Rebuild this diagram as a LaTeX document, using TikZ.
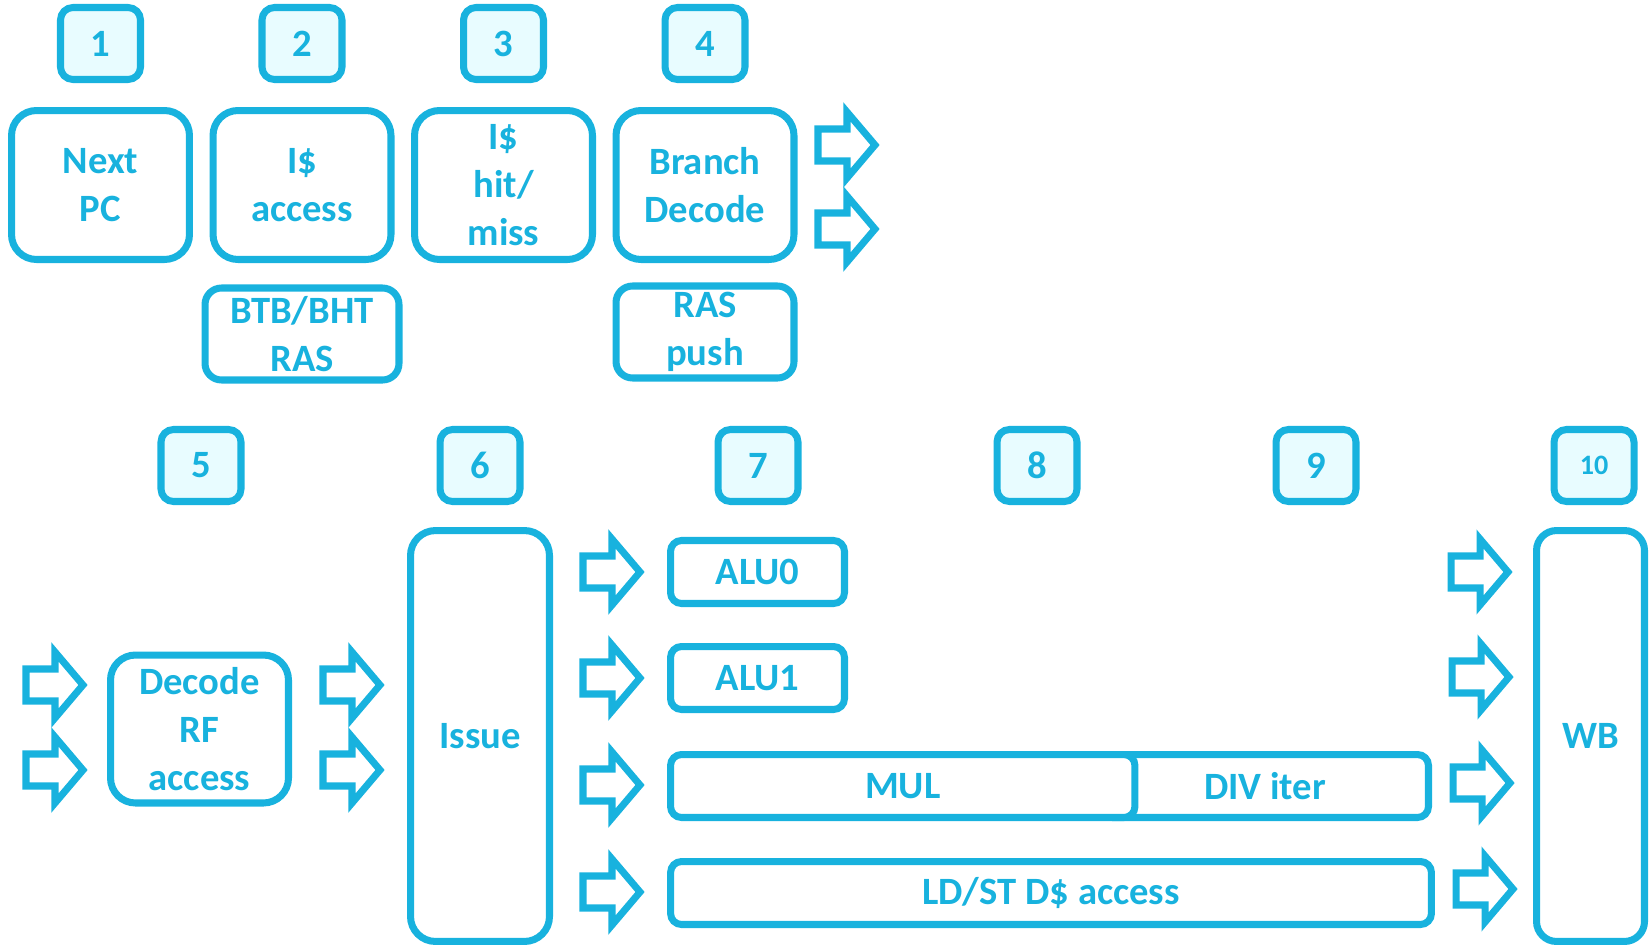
\documentclass[tikz,border=0pt]{standalone}
\usepackage{fontspec}
\setmainfont{Carlito}
\usepackage{xcolor}
\definecolor{stageblue}{RGB}{24,178,222}
\definecolor{stagefill}{RGB}{232,252,255}

\begin{document}
\begin{tikzpicture}[x=0.02cm, y=-0.02cm,
  box/.style={draw=stageblue, line width=4pt, rounded corners=0.5cm, text=stageblue,
    align=center, inner sep=0pt, font=\fontsize{22}{27.2}\selectfont\bfseries},
  numbox/.style={box, fill=stagefill, minimum width=1.6cm, minimum height=1.44cm, rounded corners=0.25cm},
  stagebox/.style={box, minimum width=3.56cm, minimum height=2.98cm},
  unitbox/.style={box, minimum height=1.26cm, rounded corners=0.22cm},
  fatarrow/.pic={\draw[stageblue, line width=4pt] (-29,-16) -- (0,-16) -- (0,-33) -- (28,0) -- (0,33) -- (0,16) -- (-29,16) -- cycle;}]
  \useasboundingbox (0,0) rectangle (1649,946);
  % Front end: stages 1-4
  \foreach \n/\x in {1/100.5, 2/302, 3/503.5, 4/705}
    \node[numbox] (n\n) at (\x,43.5) {\n};
  \node[stagebox] (npc) at (100.5,185) {Next\\PC};
  \node[stagebox] (iacc) at (302,185) {I\$\\access};
  \node[stagebox] (ihit) at (503.5,185) {I\$\\hit/\\miss};
  \node[stagebox] (bdec) at (705,185) {Branch\\Decode};
  \node[box, minimum width=3.88cm, minimum height=1.84cm, rounded corners=0.33cm] (btb) at (302,334) {BTB/BHT\\RAS};
  \node[box, minimum width=3.56cm, minimum height=1.84cm, rounded corners=0.33cm] (ras) at (705,332) {RAS\\push};
  \foreach \y in {145,229}
    \pic at (847,\y) {fatarrow};
  % Back end: stages 5-10
  \foreach \n/\x in {5/201, 6/480, 7/758, 8/1037, 9/1316}
    \node[numbox] (n\n) at (\x,465.5) {\n};
  \node[numbox, font=\fontsize{16}{19}\selectfont\bfseries] (n10) at (1594,465.5) {10};
  \foreach \x in {55,352}
    \foreach \y in {685,770}
      \pic at (\x,\y) {fatarrow};
  \node[box, minimum width=3.56cm, minimum height=2.96cm] (dec) at (199.5,729) {Decode\\RF\\access};
  \node[box, minimum width=2.78cm, minimum height=8.22cm] (issue) at (480,736) {Issue};
  \foreach \y in {572,678,785,892}
    \pic at (612,\y) {fatarrow};
  \node[unitbox, minimum width=3.48cm] (alu0) at (757.5,572) {ALU0};
  \node[unitbox, minimum width=3.48cm] (alu1) at (757.5,678) {ALU1};
  \node[unitbox, minimum width=6.54cm] (div) at (1265,786) {DIV iter};
  \node[unitbox, minimum width=9.29cm, fill=white] (mul) at (902.75,786) {MUL};
  \node[unitbox, minimum width=15.22cm] (ldst) at (1051,893) {LD/ST D\$ access};
  \foreach \x/\y in {1480/572, 1481/677, 1482/783, 1485/889}
    \pic at (\x,\y) {fatarrow};
  \node[box, minimum width=2.16cm, minimum height=8.22cm, rounded corners=0.4cm] (wb) at (1590.5,736) {WB};
\end{tikzpicture}
\end{document}
